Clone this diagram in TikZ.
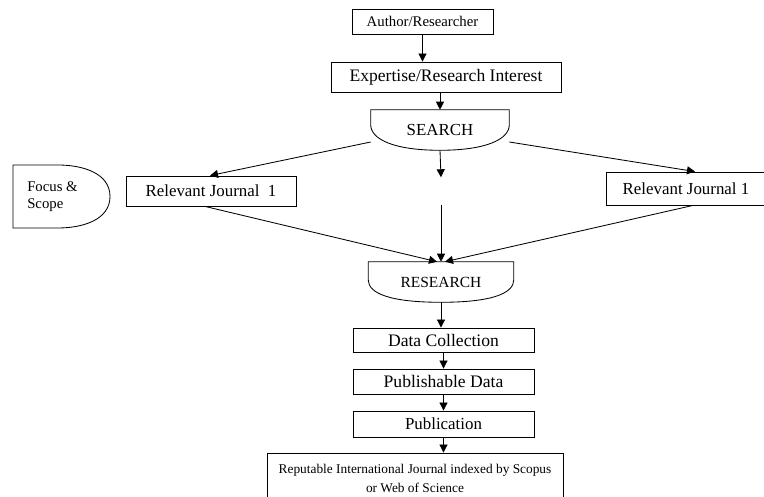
\documentclass[tikz,border=0pt]{standalone}
\usepackage{fontspec}
\setmainfont{Liberation Serif}
\usetikzlibrary{arrows.meta,calc}

\tikzset{
  box/.style={draw, rectangle, line width=0.6pt, inner sep=1pt},
  flow/.style={line width=0.6pt, -{Triangle[length=2mm,width=2mm]}},
}

\begin{document}
\begin{tikzpicture}[x=0.025cm, y=-0.025cm]
  \useasboundingbox (0,0) rectangle (764,497);

  % ---------- top of the flow ----------
  \node[box, minimum width=3.525cm, minimum height=0.625cm, font=\fontsize{10.5}{12}\selectfont]
    (author) at (422.5,21.5) {Author/Researcher};
  \node[box, minimum width=5.75cm, minimum height=0.75cm, font=\fontsize{12.5}{14}\selectfont]
    (expert) at (446,77) {Expertise/Research Interest};

  % search: flat top, round bottom
  \node[minimum width=3.45cm, minimum height=1cm, font=\fontsize{12}{14}\selectfont]
    (search) at (440,130) {SEARCH};
  \draw[line width=0.6pt] (search.north west) -- ($(search.north west)+(0,15)$)
    .. controls ($(search.north west)+(0,30)$) and ($(search.south)+(-45,0)$) .. (search.south)
    .. controls ($(search.south)+(45,0)$) and ($(search.north east)+(0,30)$) .. ($(search.north east)+(0,15)$)
    -- (search.north east) -- cycle;

  % ---------- journals ----------
  \node[box, minimum width=4.25cm, minimum height=0.75cm, font=\fontsize{12}{14}\selectfont]
    (rj1) at (211,191) {Relevant Journal~ 1};
  \node[box, minimum width=4cm, minimum height=0.825cm, font=\fontsize{12}{14}\selectfont]
    (rj2) at (686,188.5) {Relevant Journal 1};

  % focus & scope: flat left, round right
  \draw[line width=0.6pt] (13,165) -- (58,165) to[out=0,in=90] (110,196.5)
    to[out=-90,in=0] (58,228) -- (13,228) -- cycle;
  \node[align=left, anchor=west, inner sep=0pt, font=\fontsize{10.5}{12.5}\selectfont]
    (focus) at (27,196.5) {Focus \&\\Scope};

  % ---------- research ----------
  \node[minimum width=3.625cm, minimum height=1cm, font=\fontsize{11}{13}\selectfont]
    (research) at (441,282) {RESEARCH};
  \draw[line width=0.6pt] (research.north west) -- ($(research.north west)+(0,18)$)
    .. controls ($(research.north west)+(0,32)$) and ($(research.south)+(-50,0)$) .. (research.south)
    .. controls ($(research.south)+(50,0)$) and ($(research.north east)+(0,32)$) .. ($(research.north east)+(0,18)$)
    -- (research.north east) -- cycle;

  \node[box, minimum width=4.525cm, minimum height=0.6cm, font=\fontsize{12.5}{14}\selectfont]
    (datacol) at (443.5,340) {Data Collection};
  \node[box, minimum width=4.525cm, minimum height=0.625cm, font=\fontsize{12.5}{14}\selectfont]
    (pubdata) at (443.5,381.5) {Publishable Data};
  \node[box, minimum width=4.525cm, minimum height=0.65cm, font=\fontsize{12}{14}\selectfont]
    (publ) at (443.5,424) {Publication};
  \node[box, minimum width=7.4cm, minimum height=1.25cm, align=center, font=\fontsize{9.5}{13.5}\selectfont]
    (reput) at (415,478) {Reputable International Journal indexed by Scopus\\or Web of Science};

  % ---------- connectors ----------
  \coordinate (gap1) at ($(search.south)+(1,27)$);
  \coordinate (gap2) at ($(research.north)+(0,-57)$);

  \draw[flow] (author.south) -- (author.south |- expert.north);
  \draw[flow] (search.north |- expert.south) -- (search.north);
  \draw[flow] ($(search.west)+(0,12)$) -- ($(rj1.north)+(-1,0)$);
  \draw[flow] ($(search.east)+(0,12)$) -- ($(rj2.north)+(9,0)$);
  \draw[flow] (search.south) -- (gap1);
  \draw[flow] (gap2) -- (research.north);
  \draw[flow] ($(rj1.south)+(-6,0)$) -- ($(research.north)+(-4,0)$);
  \draw[flow] ($(rj2.south)+(7,0)$) -- ($(research.north)+(4,0)$);
  \draw[flow] (research.south) -- (research.south |- datacol.north);
  \draw[flow] (datacol.south) -- (pubdata.north);
  \draw[flow] (pubdata.south) -- (publ.north);
  \draw[flow] (publ.south) -- (publ.south |- reput.north);
\end{tikzpicture}
\end{document}
